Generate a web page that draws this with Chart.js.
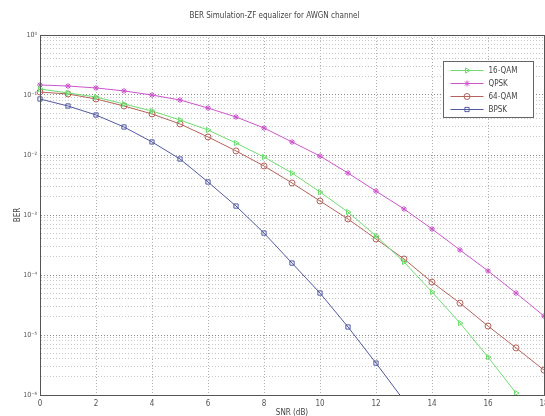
<!DOCTYPE html>
<html lang="en">
<head>
<title>BER Simulation-ZF equalizer for AWGN channel</title>
<script src="https://cdn.jsdelivr.net/npm/chart.js@4/dist/chart.umd.min.js"></script>
<style>
  body { margin: 0; background: #fff; overflow: hidden; }
  #wrap { width: 545px; height: 416px; overflow: hidden; }
</style>
<script>

// SNR in dB
var snr = [0, 1, 2, 3, 4, 5, 6, 7, 8, 9, 10, 11, 12, 13, 14, 15, 16, 17, 18];

// BER per modulation
var ber16qam = [0.126, 0.108, 0.0926, 0.0708, 0.0541, 0.0383, 0.0261, 0.0158, 0.00926, 0.0050,
                0.00242, 0.00112, 4.47e-4, 1.65e-4, 5.2e-5, 1.58e-5, 4.3e-6, 1.08e-6, null];
var berQpsk  = [0.147, 0.141, 0.131, 0.117, 0.100, 0.0825, 0.0607, 0.043, 0.0282, 0.0165,
                0.0096, 0.0050, 0.0025, 0.00126, 5.85e-4, 2.61e-4, 1.17e-4, 5.0e-5, 2.07e-5];
var ber64qam = [0.112, 0.104, 0.0858, 0.0656, 0.0483, 0.0329, 0.0200, 0.0117, 0.00656, 0.00342,
                0.00171, 8.58e-4, 3.98e-4, 1.85e-4, 7.6e-5, 3.4e-5, 1.41e-5, 6.1e-6, 2.6e-6];
var berBpsk  = [0.0858, 0.0656, 0.0464, 0.0293, 0.0165, 0.00858, 0.00355, 0.00141, 5.0e-4, 1.58e-4,
                5.0e-5, 1.36e-5, 3.4e-6, 8.1e-7, null, null, null, null, null];

var seriesNames = ['16-QAM', 'QPSK', '64-QAM', 'BPSK'];

// y ticks: 1..9 per decade, 1e-6 .. 1
var yDecades = [-6, -5, -4, -3, -2, -1];
var xTicks = [0, 2, 4, 6, 8, 10, 12, 14, 16, 18];

var FONT = "'Liberation Sans Narrow', 'DejaVu Sans Condensed', 'Liberation Sans', sans-serif";
var SUP = {'-': '\u207B', '0': '\u2070', '1': '\u00B9', '2': '\u00B2', '3': '\u00B3', '4': '\u2074',
           '5': '\u2075', '6': '\u2076', '7': '\u2077', '8': '\u2078', '9': '\u2079'};

function pts(arr) {
    return snr.map(function (x, i) { return {x: x, y: arr[i]}; });
}

function isDecade(v) {
    var l = Math.log10(v);
    return Math.abs(l - Math.round(l)) < 1e-9;
}

// the legend box sitting inside the axes, matlab style
var boxLegend = {
    id: 'boxLegend',
    afterDraw: function (chart) {
        var ctx = chart.ctx, a = chart.chartArea;
        // box round the plot
        ctx.save();
        ctx.strokeStyle = '#555';
        ctx.lineWidth = 1;
        ctx.strokeRect(Math.round(a.left) + 0.5, Math.round(a.top) + 0.5,
                       Math.round(a.right - a.left), Math.round(a.bottom - a.top));

        var left = Math.round(a.right) - 101 + 0.5, top = Math.round(a.top) + 26 + 0.5;
        ctx.fillStyle = '#fff';
        ctx.fillRect(left, top, 90, 56);
        ctx.strokeStyle = '#666';
        ctx.strokeRect(left, top, 90, 56);

        ctx.font = '8px ' + FONT;
        ctx.textBaseline = 'middle';
        chart.data.datasets.forEach(function (ds, i) {
            var y = top + 9 + i * 13;
            ctx.strokeStyle = ds.borderColor;
            ctx.lineWidth = 1;
            ctx.beginPath();
            ctx.moveTo(left + 7, y);
            ctx.lineTo(left + 40, y);
            ctx.stroke();
            ctx.fillStyle = 'rgba(0,0,0,0)';
            Chart.helpers.drawPoint(ctx, {
                pointStyle: ds.pointStyle, rotation: ds.pointRotation || 0,
                radius: 3, borderWidth: 1
            }, left + 23.5, y);
            ctx.fillStyle = '#444';
            ctx.fillText(ds.label, left + 45, y + 0.5);
        });
        ctx.restore();
    }
};

function go() {
    var colors = ['#6fdc6f', '#cc55cc', '#b5625c', '#5059a2'];
    var styles = ['triangle', 'star', 'circle', 'rect'];
    var rots = [90, 0, 0, 0];
    var all = [ber16qam, berQpsk, ber64qam, berBpsk];

    var datasets = all.map(function (arr, i) {
        return {
            label: seriesNames[i],
            data: pts(arr),
            borderColor: colors[i],
            backgroundColor: 'rgba(0,0,0,0)',
            borderWidth: 1,
            pointStyle: styles[i],
            pointRotation: rots[i],
            pointRadius: function (c) { return (c.raw && c.raw.y < 1e-6) ? 0 : 3; },
            pointBorderWidth: 1,
            pointBorderColor: colors[i],
            pointBackgroundColor: 'rgba(0,0,0,0)',
            tension: 0,
            spanGaps: false,
            clip: {left: 6, right: 6, top: 6, bottom: 0}
        };
    });

    var ctx = document.getElementById('myChart');
    new Chart(ctx, {
        type: 'line',
        data: {datasets: datasets},
        plugins: [boxLegend],
        options: {
            responsive: false,
            animation: false,
            layout: {padding: {left: 0, right: 0, top: 0, bottom: 0}},
            plugins: {
                legend: {display: false},
                tooltip: {enabled: false},
                title: {
                    display: true,
                    text: 'BER Simulation-ZF equalizer for AWGN channel',
                    color: '#444',
                    font: {family: FONT, size: 8, weight: 'normal', lineHeight: 1.2},
                    padding: {top: 11, bottom: 14.4}
                }
            },
            scales: {
                x: {
                    type: 'linear',
                    min: 0, max: 18,
                    afterBuildTicks: function (axis) {
                        axis.ticks = xTicks.map(function (v) { return {value: v}; });
                    },
                    afterFit: function (s) { s.height = 21; s.paddingRight = 1; },
                    grid: {color: '#b0b0b0', drawTicks: false, lineWidth: 1},
                    border: {color: '#555', dash: [1, 2]},
                    ticks: {color: '#555', padding: 4, maxRotation: 0, autoSkip: false,
                            font: {family: FONT, size: 8}},
                    title: {display: true, text: 'SNR (dB)', color: '#444',
                            font: {family: FONT, size: 8}, padding: {top: 0, bottom: -2}}
                },
                y: {
                    type: 'logarithmic',
                    min: 1e-6, max: 1,
                    afterBuildTicks: function (axis) {
                        var t = [];
                        yDecades.forEach(function (e) {
                            for (var d = 1; d <= 9; d++) t.push({value: d * Math.pow(10, e)});
                        });
                        t.push({value: 1});
                        axis.ticks = t;
                    },
                    afterFit: function (s) { s.width = 40; },
                    grid: {
                        color: function (c) { return (c.tick && isDecade(c.tick.value)) ? '#8a8a8a' : '#c8c8c8'; },
                        drawTicks: false, lineWidth: 1
                    },
                    border: {color: '#555', dash: [1, 2]},
                    ticks: {
                        color: '#555', padding: 3, autoSkip: false,
                        font: {family: FONT, size: 7},
                        callback: function (v) {
                            if (!isDecade(v)) return '';
                            var e = String(Math.round(Math.log10(v)));
                            return '10' + e.split('').map(function (ch) { return SUP[ch]; }).join('');
                        }
                    },
                    title: {display: true, text: 'BER', color: '#444',
                            font: {family: FONT, size: 8}, padding: {top: 13, bottom: 0}}
                }
            }
        }
    });
}
</script>
</head>
<body onload="go();">
<div id="wrap"><canvas id="myChart" width="549" height="416"></canvas></div>
</body>
</html>
